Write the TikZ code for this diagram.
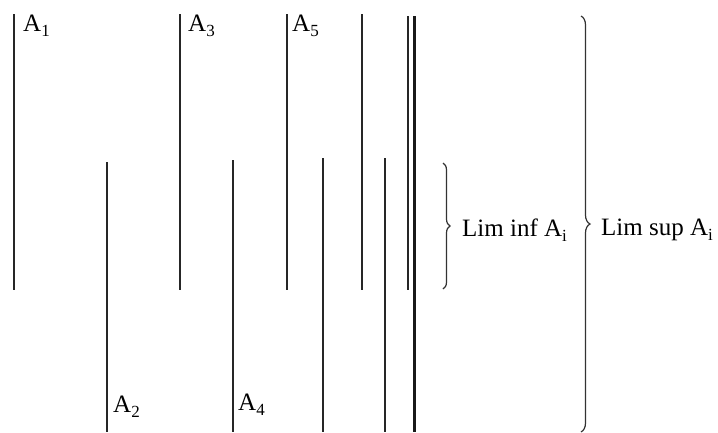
\documentclass[tikz,border=0pt]{standalone}
\usepackage{fontspec}
\setmainfont{Liberation Serif}
\usetikzlibrary{decorations.pathreplacing}
\newcommand{\mysub}[1]{\raisebox{-5pt}{\fontsize{17}{20}\selectfont #1}}
\begin{document}
\begin{tikzpicture}[x=1pt,y=-1pt,
  setline/.style={line width=1.6pt,color=black!85},
  thickline/.style={line width=3pt,color=black!90},
  lbl/.style={anchor=base west,inner sep=0pt,font=\fontsize{25}{29}\selectfont},
  bracestyle/.style={decorate,decoration={brace,amplitude=#1},line width=1.2pt,color=black!80}]
\useasboundingbox (0,0) rectangle (718,432);
% top row (odd) sets
\coordinate (a1t) at (14,14);  \coordinate (a1b) at (14,290);
\coordinate (a3t) at (180,14); \coordinate (a3b) at (180,290);
\coordinate (a5t) at (287,14); \coordinate (a5b) at (287,290);
\coordinate (a7t) at (362,14); \coordinate (a7b) at (362,290);
\coordinate (a9t) at (408,16); \coordinate (a9b) at (408,290);
% bottom row (even) sets
\coordinate (a2t) at (107,162); \coordinate (a2b) at (107,432);
\coordinate (a4t) at (233,160); \coordinate (a4b) at (233,432);
\coordinate (a6t) at (323,158); \coordinate (a6b) at (323,432);
\coordinate (a8t) at (385,158); \coordinate (a8b) at (385,432);
% limit
\coordinate (lt) at (414,16); \coordinate (lb) at (414,432);
\foreach \n in {1,...,9} \draw[setline] (a\n t) -- (a\n b);
\draw[thickline] (lt) -- (lb);
% labels
\node[lbl] (A1) at (23,31) {A\mysub{1}};
\node[lbl] (A3) at (188,31) {A\mysub{3}};
\node[lbl] (A5) at (292,31) {A\mysub{5}};
\node[lbl] (A2) at (113,412) {A\mysub{2}};
\node[lbl] (A4) at (238,410) {A\mysub{4}};
% braces
\coordinate (b1t) at (443,163); \coordinate (b1b) at (443,289);
\coordinate (b2t) at (581,16); \coordinate (b2b) at (581,432);
\draw[bracestyle=7pt] (b1t) -- (b1b);
\draw[bracestyle=9pt] (b2t) -- (b2b);
\node[lbl] (inf) at (462,236) {Lim inf A\mysub{i}};
\node[lbl] (sup) at (601,235) {Lim sup A\mysub{i}};
\end{tikzpicture}
\end{document}
